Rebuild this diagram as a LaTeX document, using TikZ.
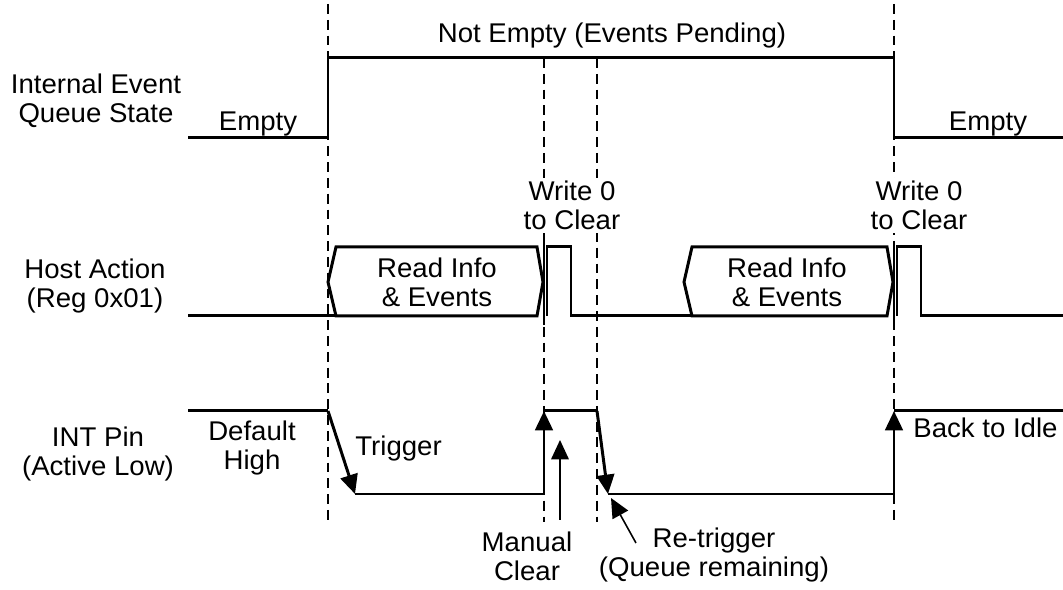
\documentclass[tikz,border=0pt]{standalone}
\usepackage{fontspec}
\setmainfont{Liberation Sans}[FakeStretch=1.02]
\usepackage{xcolor}
\usetikzlibrary{arrows.meta}

\tikzset{
	wave/.style={line width=1.7pt, line join=miter},
	guide/.style={dash pattern=on 5.6pt off 3.4pt, line width=0.8pt},
	edgearrow/.style={wave, -{Triangle[length=11pt,width=10pt]}},
	pointer/.style={line width=0.9pt, -{Triangle[length=11pt,width=10pt]}},
	lbl/.style={align=center, inner sep=0pt, font=\fontsize{15.4}{17}\selectfont},
	masklbl/.style={lbl, fill=white, inner sep=1.5pt},
}

\begin{document}
\begin{tikzpicture}[x=0.02cm, y=-0.02cm]
			
			% Parameters
			\def\qhigh{58}
			\def\qlow{138}
			\def\hhigh{247}
			\def\hmid{282}
			\def\hlow{316}
			\def\ihigh{411}
			\def\ilow{494}
			\useasboundingbox (0,0) rectangle (1063,590);
			
			% time markers
			\foreach \x/\ytop in {328/4, 544/\qhigh, 597/\qhigh, 894/4} {
				\draw[guide] (\x,\ytop) -- (\x,522);
			}
			\foreach \x in {544, 894} {
				\draw[line width=0.8pt] (\x,241) -- (\x,325);
			}
			
			% row titles (base = last line)
			\node[lbl, anchor=base] (qstate) at (96,123) {Internal Event\\Queue State};
			\node[lbl, anchor=base] (host) at (95,308) {Host Action\\(Reg 0x01)};
			\node[lbl, anchor=base] (intpin) at (98,476) {INT Pin\\(Active Low)};
			
			% queue state
			\draw[wave] (188,\qlow) -- (328,\qlow) -- (328,\qhigh) -- (894,\qhigh) -- (894,\qlow) -- (1063,\qlow);
			\node[lbl, anchor=base] (pending) at (612,43) {Not Empty (Events Pending)};
			\node[lbl, anchor=base] (empty1) at (258,131) {Empty};
			\node[lbl, anchor=base] (empty2) at (988,131) {Empty};
			
			% host action: read bursts
			\foreach \a/\b in {328/543, 684/893} {
				\draw[wave] (\a+8,\hhigh) -- (\b-6,\hhigh) -- (\b,\hmid) -- (\b-6,\hlow) -- (\a+8,\hlow) -- (\a,\hmid) -- cycle;
			}
			% host action: write pulses and idle level
			\draw[wave] (188,\hlow) -- (336,\hlow);
			\draw[wave] (547,\hlow) -- (547,\hhigh) -- (571,\hhigh) -- (571,\hlow) -- (692,\hlow);
			\draw[wave] (897,\hlow) -- (897,\hhigh) -- (921,\hhigh) -- (921,\hlow) -- (1063,\hlow);
			\node[lbl, anchor=base] (read1) at (437,307) {Read Info\\\& Events};
			\node[lbl, anchor=base] (read2) at (787,307) {Read Info\\\& Events};
			\node[masklbl, anchor=base] (write1) at (572,230) {Write 0\\to Clear};
			\node[masklbl, anchor=base] (write2) at (919,230) {Write 0\\to Clear};
			
			% INT pin
			\draw[wave] (188,\ihigh) -- (328,\ihigh);
			\draw[edgearrow] (328,\ihigh) -- (355,\ilow);
			\draw[wave] (355,\ilow) -- (544,\ilow);
			\draw[edgearrow] (544,\ilow) -- (544,\ihigh);
			\draw[wave] (544,\ihigh) -- (597,\ihigh);
			\draw[edgearrow] (597,\ihigh) -- (608,\ilow);
			\draw[wave] (608,\ilow) -- (894,\ilow);
			\draw[edgearrow] (894,\ilow) -- (894,\ihigh);
			\draw[wave] (894,\ihigh) -- (1063,\ihigh);
			\node[lbl, anchor=base] (default) at (252,470) {Default\\High};
			\node[lbl, anchor=base west] (trigger) at (355,456) {Trigger};
			\node[lbl, anchor=base west] (idle) at (913,438) {Back to Idle};
			
			% pointers
			\node[lbl, anchor=base] (manual) at (527,581) {Manual\\Clear};
			\node[lbl, anchor=base] (retrig) at (714,577) {Re-trigger\\(Queue remaining)};
			\coordinate (mctail) at (560,520);
			\coordinate (mctip) at (560,440);
			\coordinate (rttail) at (636,543);
			\coordinate (rttip) at (611,498);
			\draw[pointer] (mctail) -- (mctip);
			\draw[pointer] (rttail) -- (rttip);
			
\end{tikzpicture}
\end{document}
